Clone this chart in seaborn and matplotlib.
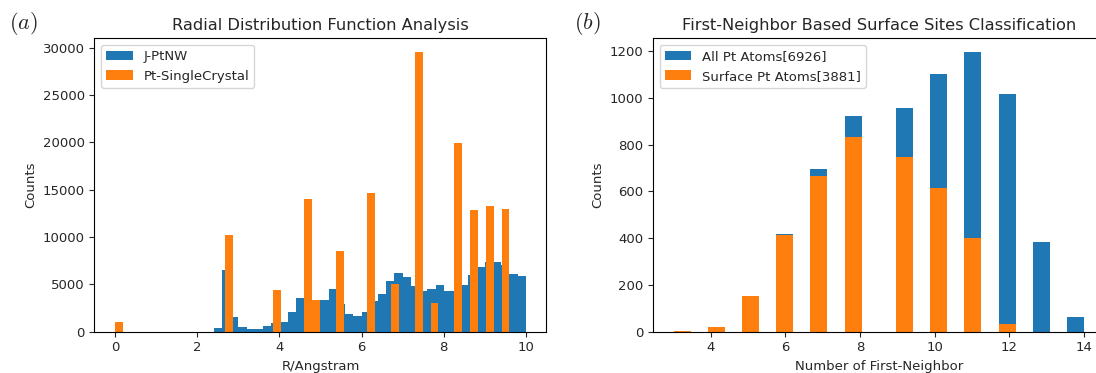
import numpy as np
import matplotlib
matplotlib.use("Agg")
import matplotlib.pyplot as plt
import seaborn as sns

sns.set_style("ticks")
plt.rcParams["font.family"] = ["DejaVu Sans"]
plt.rcParams["font.size"] = 9.5
plt.rcParams["mathtext.fontset"] = "cm"

# ---------------- Panel (a): radial distribution function ----------------
nw_label = "J-PtNW"
sc_label = "Pt-SingleCrystal"
nw_range = (0.0, 10.0)
sc_range = (0.0, 9.6)
nw_counts = [1000, 0, 0, 0, 0, 0, 0, 0, 0, 0,
             0, 0, 420, 6500, 1580, 490, 280, 280, 630, 920,
             1020, 2080, 3590, 3870, 3400, 3350, 4540, 2920, 1870, 1690,
             2080, 3280, 3980, 5390, 6200, 5770, 4820, 4300, 4510, 4930,
             4300, 4300, 4930, 5990, 6830, 7360, 7360, 7000, 6090, 5880]
sc_counts = [1020, 0, 0, 0, 0, 0, 0, 0, 0, 0,
             0, 0, 0, 0, 10210, 0, 0, 0, 0, 0,
             4400, 0, 0, 0, 14010, 3350, 0, 0, 8520, 0,
             0, 0, 14650, 0, 0, 5040, 0, 0, 29540, 0,
             3030, 0, 0, 19930, 0, 12850, 0, 13270, 0, 12960]

# ---------------- Panel (b): first-neighbour classification ----------------
cn_values = [3, 4, 5, 6, 7, 8, 9, 10, 11, 12, 13, 14]
all_counts = [1, 20, 152, 418, 697, 923, 956, 1102, 1195, 1015, 384, 63]
surf_counts = [1, 20, 152, 413, 666, 833, 748, 615, 400, 33, 0, 0]

blue = "#1f77b4"
orange = "#ff7f0e"

fig = plt.figure(figsize=(10.96, 3.73), dpi=100)
ax1 = fig.add_axes([0.0862, 0.1107, 0.4124, 0.787])
ax2 = fig.add_axes([0.5958, 0.1107, 0.4120, 0.787])


def centers(rng, n):
    edges = np.linspace(rng[0], rng[1], n + 1)
    return (edges[:-1] + edges[1:]) / 2


sns.histplot(x=centers(nw_range, len(nw_counts)), weights=nw_counts,
             bins=len(nw_counts), binrange=nw_range, color=blue, alpha=1,
             edgecolor="none", linewidth=0, ax=ax1, label=nw_label)
sns.histplot(x=centers(sc_range, len(sc_counts)), weights=sc_counts,
             bins=len(sc_counts), binrange=sc_range, color=orange, alpha=1,
             edgecolor="none", linewidth=0, ax=ax1, label=sc_label)
ax1.set_xlim(-0.5, 10.5)
ax1.set_ylim(0, max(sc_counts) * 1.05)
ax1.set_xticks([0, 2, 4, 6, 8, 10])
ax1.set_yticks(np.arange(0, 30001, 5000))
ax1.set_xlabel("R/Angstram")
ax1.set_ylabel("Counts")
ax1.set_title("Radial Distribution Function Analysis", fontsize=11.7)
ax1.legend(loc="upper left")

sns.histplot(x=cn_values, weights=all_counts, bins=24, binrange=(3, 14),
             color=blue, alpha=1, edgecolor="none", linewidth=0, ax=ax2,
             label=f"All Pt Atoms[{sum(all_counts)}]")
sns.histplot(x=cn_values, weights=surf_counts, bins=24, binrange=(3, 14),
             color=orange, alpha=1, edgecolor="none", linewidth=0, ax=ax2,
             label=f"Surface Pt Atoms[{sum(surf_counts)}]")
ax2.set_xlim(2.45, 14.55)
ax2.set_ylim(0, max(all_counts) * 1.05)
ax2.set_xticks([4, 6, 8, 10, 12, 14])
ax2.set_yticks(np.arange(0, 1201, 200))
ax2.set_xlabel("Number of First-Neighbor")
ax2.set_ylabel("Counts")
ax2.set_title("First-Neighbor Based Surface Sites Classification", fontsize=11.7)
ax2.legend(loc="upper left")

for ax in (ax1, ax2):
    for s in ax.spines.values():
        s.set_visible(True)
        s.set_color("black")
        s.set_linewidth(0.8)

fig.text(0.008, 0.922, r"$(a)$", fontsize=16)
fig.text(0.524, 0.922, r"$(b)$", fontsize=16)

fig.savefig("out.png", dpi=100)
